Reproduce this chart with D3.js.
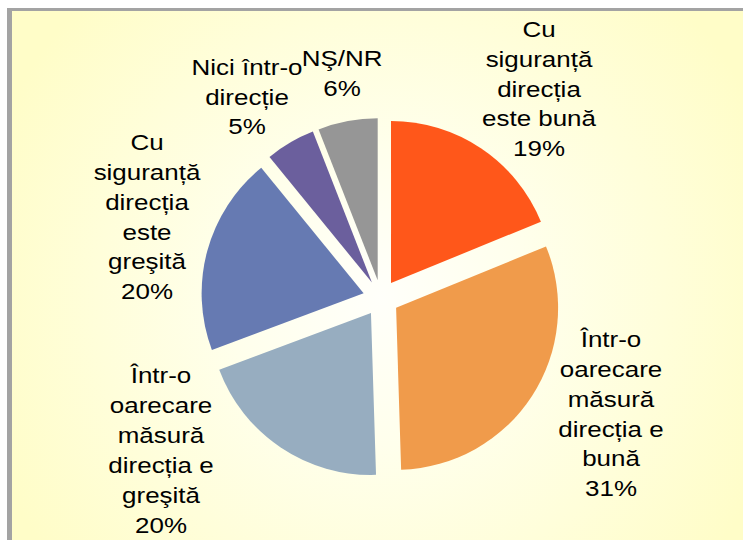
<!DOCTYPE html>
<html>
<head>
<meta charset="utf-8">
<script src="https://cdn.jsdelivr.net/npm/d3@7"></script>
<style>
  html, body { margin: 0; padding: 0; background: #fff; }
  svg { display: block; }
</style>
</head>
<body>
<div id="chart"></div>
<script>
// categories, clockwise from 12 o'clock
const categories = [
  'Cu siguranță direcția este bună',
  'Într-o oarecare măsură direcția e bună',
  'Într-o oarecare măsură direcția e greşită',
  'Cu siguranță direcția este greşită',
  'Nici într-o direcție',
  'NŞ/NR'
];
const values = [19, 31, 20, 20, 5, 6];
// label text as it is broken in the picture
const labelLines = [
  ['Cu', 'siguranță', 'direcția', 'este bună'],
  ['Într-o', 'oarecare', 'măsură', 'direcția e', 'bună'],
  ['Într-o', 'oarecare', 'măsură', 'direcția e', 'greşită'],
  ['Cu', 'siguranță', 'direcția', 'este', 'greşită'],
  ['Nici într-o', 'direcție'],
  ['NŞ/NR']
];
const colors = ['#FF571A', '#F09B4B', '#97ADC0', '#667AB2', '#6B5F9D', '#969696'];

const W = 743, H = 540;
const cx = 381, cy = 298, R = 162, explode = 18;
// label block centres (baseline midpoints, layout only)
const labelPos = [[539, 96.5], [611, 421.5], [161, 458], [147, 224.5], [247, 104.5], [342, 81]];
const lineH = 30;

const svg = d3.select('#chart').append('svg')
  .attr('width', W)
  .attr('height', H);

const defs = svg.append('defs');
const grad = defs.append('radialGradient')
  .attr('id', 'bg')
  .attr('gradientUnits', 'userSpaceOnUse')
  .attr('cx', cx).attr('cy', cy).attr('r', 420);
grad.append('stop').attr('offset', '0%').attr('stop-color', '#FFFFFA');
grad.append('stop').attr('offset', '35%').attr('stop-color', '#FFFFEC');
grad.append('stop').attr('offset', '100%').attr('stop-color', '#FFFDC8');

// frame
svg.append('rect').attr('x', 7).attr('y', 8).attr('width', W - 7).attr('height', H - 8).attr('fill', '#A3A3A3');
svg.append('rect').attr('x', 12).attr('y', 11).attr('width', W - 12).attr('height', H - 11).attr('fill', 'url(#bg)');

const pie = d3.pie().sort(null).value(d => d);
const arc = d3.arc().innerRadius(0).outerRadius(R);
const arcs = pie(values);

const g = svg.append('g').attr('transform', `translate(${cx},${cy})`);
g.selectAll('path')
  .data(arcs)
  .join('path')
  .attr('d', arc)
  .attr('fill', (d, i) => colors[i])
  .attr('transform', d => {
    const a = (d.startAngle + d.endAngle) / 2;
    return `translate(${explode * Math.sin(a)},${-explode * Math.cos(a)})`;
  });

// labels
const labels = svg.append('g')
  .attr('font-family', '"Liberation Sans", Arial, sans-serif')
  .attr('font-size', 22)
  .attr('fill', '#000');

arcs.forEach((d, i) => {
  const lines = labelLines[i].concat([`${values[i]}%`]);
  const [x, y] = labelPos[i];
  const y0 = -(lines.length - 1) / 2 * lineH;
  const t = labels.append('text')
    .attr('text-anchor', 'middle')
    .attr('transform', `translate(${x},${y}) scale(1.18,1)`);
  lines.forEach((s, k) => {
    t.append('tspan').attr('x', 0).attr('y', y0 + k * lineH).text(s);
  });
});
</script>
</body>
</html>
